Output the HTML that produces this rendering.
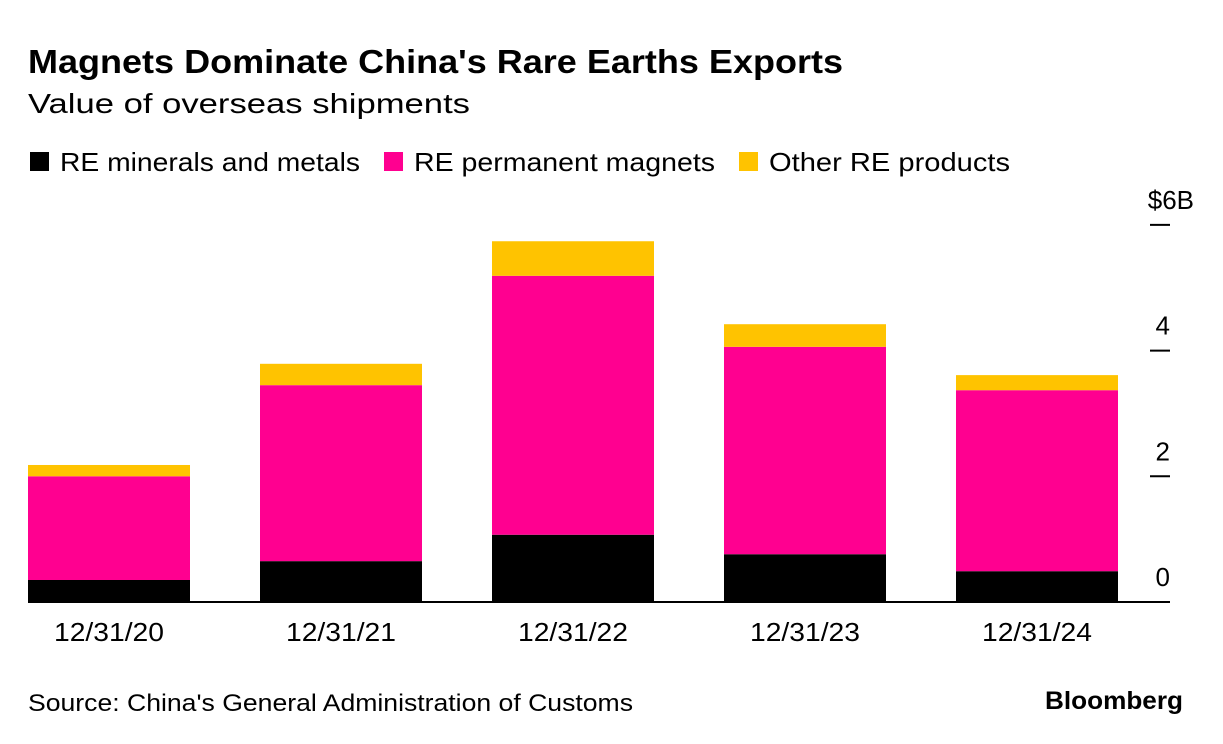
<!DOCTYPE html>
<html><head><meta charset="utf-8"><style>
body{margin:0;background:#fff;font-family:"Liberation Sans",sans-serif;}
svg{display:block}
</style></head><body>
<svg width="1223" height="744">
<text x="28" y="73" font-size="33" font-weight="bold" fill="#000" textLength="815" lengthAdjust="spacingAndGlyphs">Magnets Dominate China's Rare Earths Exports</text>
<text x="28" y="113" font-size="28" fill="#000" textLength="442" lengthAdjust="spacingAndGlyphs">Value of overseas shipments</text>
<g>
<rect x="30" y="152" width="19" height="19" fill="#000"/>
<text x="60" y="171" font-size="26" textLength="300" lengthAdjust="spacingAndGlyphs">RE minerals and metals</text>
<rect x="384" y="152" width="19" height="19" fill="#ff0090"/>
<text x="414" y="171" font-size="26" textLength="301" lengthAdjust="spacingAndGlyphs">RE permanent magnets</text>
<rect x="739" y="152" width="19" height="19" fill="#ffc300"/>
<text x="769" y="171" font-size="26" textLength="241" lengthAdjust="spacingAndGlyphs">Other RE products</text>
</g>
<g id="plot"></g>
<text x="28" y="711" font-size="24" fill="#000" textLength="605" lengthAdjust="spacingAndGlyphs">Source: China's General Administration of Customs</text>
<text x="1045" y="709" font-size="25" font-weight="bold" textLength="138" lengthAdjust="spacingAndGlyphs">Bloomberg</text>
</svg>
<script>
const categories=["12/31/20","12/31/21","12/31/22","12/31/23","12/31/24"];
const minerals=[0.35,0.65,1.07,0.76,0.49];
const magnets=[1.65,2.80,4.12,3.30,2.88];
const other=[0.18,0.34,0.55,0.36,0.24];
const tickValues=[0,2,4,6];
const tickLabels=["0","2","4","$6B"];
const NS="http://www.w3.org/2000/svg";
const g=document.getElementById('plot');
const y0=602, pxPerUnit=62.85;
const y=v=>y0-v*pxPerUnit;
const xLeft=28, step=232, barW=162;
const x=i=>xLeft+i*step;
function mk(tag,attrs){const e=document.createElementNS(NS,tag);for(const k in attrs)e.setAttribute(k,attrs[k]);g.appendChild(e);return e;}
const series=[[minerals,"#000","minerals"],[magnets,"#ff0090","magnets"],[other,"#ffc300","other"]];
categories.forEach((c,i)=>{
  let base=0;
  series.forEach(([arr,col,nm])=>{
    const v=arr[i];
    const r=mk('rect',{x:x(i),y:y(base+v),width:barW,height:v*pxPerUnit,fill:col});
    
    
    base+=v;
  });
  const t=mk('text',{x:x(i)+barW/2-28-0.5*0,y:641,'font-size':26,'text-anchor':'start',textLength:110,lengthAdjust:'spacingAndGlyphs'});
  t.setAttribute('x',x(i)+barW/2-55);
  t.textContent=c;
  
  
});
const bl=mk('line',{x1:28,x2:1170,y1:y0,y2:y0,stroke:'#000','stroke-width':2});


tickValues.forEach((v,i)=>{
  if(v>0){
    const l=mk('line',{x1:1150,x2:1170,y1:y(v),y2:y(v),stroke:'#000','stroke-width':2});
    
    
  }
  const last=i===tickValues.length-1;
  const t=mk('text',{x:last?1194:1170,y:y(v)-16,'font-size':26,'text-anchor':'end'});
  t.textContent=tickLabels[i];
  
  
});
</script>
</body></html>
